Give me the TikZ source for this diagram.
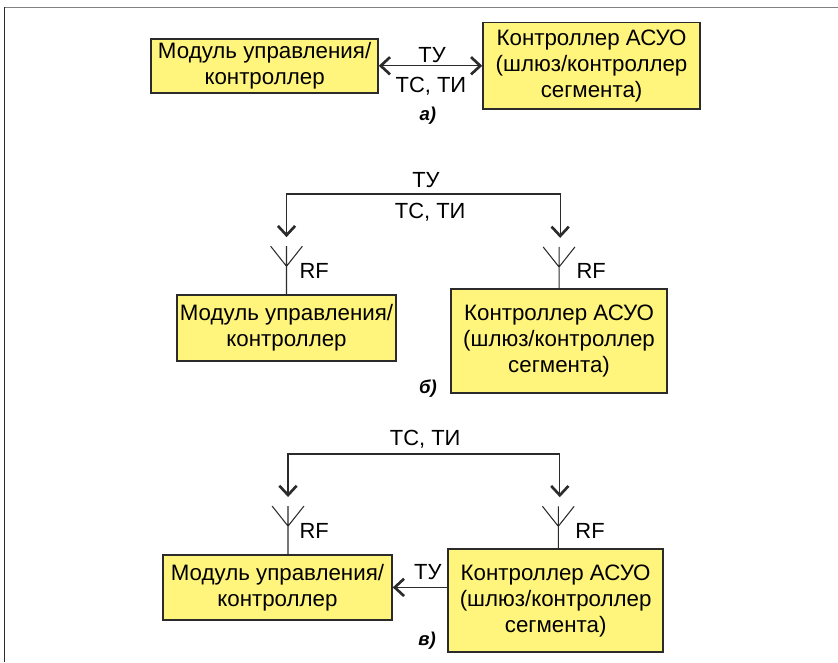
\documentclass[tikz,border=0pt]{standalone}
\usepackage{fontspec}
\setmainfont{Liberation Sans}
\usetikzlibrary{positioning,arrows.meta}
\definecolor{boxfill}{HTML}{FFF57D}
\definecolor{linedark}{HTML}{2B2B2B}
\tikzstyle{mod}=[draw=linedark, fill=boxfill, line width=1.2pt, align=center, font=\fontsize{16.8}{19.5}\selectfont, inner sep=0pt, execute at begin node=\vspace*{4pt}]
\tikzstyle{lbl}=[font=\fontsize{16.5}{20}\selectfont, inner sep=0pt]
\tikzstyle{fig}=[font=\fontsize{14}{16}\selectfont\bfseries\itshape, inner sep=0pt]
\tikzstyle{wire}=[draw=linedark, line width=0.9pt]
\tikzstyle{ant}=[draw=linedark, line width=0.8pt]
\begin{document}
\begin{tikzpicture}[node distance=2cm,>={Straight Barb[length=7pt,width=13pt,line width=2pt]}]
\useasboundingbox (0,0) rectangle (22.17,-17.52);
\draw[gray, line width=1pt] (22.17,-0.19) -- (0.1,-0.19);
\draw[linedark, line width=0.9pt] (0.12,-0.19) -- (0.12,-17.52);

% a
\node[mod, minimum width=6cm, minimum height=1.43cm] at (7,-1.74) (mod1) {Модуль управления/\\контроллер};
\node[mod, minimum width=5.74cm, minimum height=2.3cm, right of = mod1, node distance = 8.65cm] (ctrl1) {Контроллер АСУО\\(шлюз/контроллер\\сегмента)};
\draw[<->,wire] (mod1) -- (ctrl1);
\node[lbl] at (11.43,-1.46) (tu1) {ТУ};
\node[lbl] at (11.4,-2.28) (ts1) {ТС, ТИ};
\node[fig] at (11.32,-3.07) (capa) {а)};

% b
\node[mod, minimum width=5.79cm, minimum height=1.75cm] at (7.58,-8.68) (mod2) {Модуль управления/\\контроллер};
\node[mod, minimum width=5.72cm, minimum height=2.75cm, right of = mod2, node distance = 7.21cm, yshift=-0.34cm] (ctrl2) {Контроллер АСУО\\(шлюз/контроллер\\сегмента)};
\coordinate[above=0.74cm of mod2] (ant1);
\coordinate[above=0.56cm of ctrl2] (ant2);
\draw[ant] (mod2) -- (ant1) -- +(0,0.53) (ant1) -- +(-0.42,0.53) (ant1) -- +(0.42,0.53);
\draw[ant] (ctrl2) -- (ant2) -- +(0,0.53) (ant2) -- +(-0.42,0.53) (ant2) -- +(0.42,0.53);
\coordinate[above=0.77cm of ant1] (tip1);
\coordinate[above=0.77cm of ant2, xshift=0.03cm] (tip2);
\coordinate (top1) at (11.2,-5.13);
\draw[<->,wire] (tip1) |- (top1) -| (tip2);
\node[lbl] at (11.27,-4.76) (tu2) {ТУ};
\node[lbl] at (11.38,-5.61) (ts2) {ТС, ТИ};
\node[lbl] at (8.31,-7.17) (rf1) {RF};
\node[lbl] at (15.64,-7.17) (rf2) {RF};
\node[fig] at (11.32,-10.27) (capb) {б)};

% c
\node[mod, minimum width=6.06cm, minimum height=1.72cm] at (7.34,-15.54) (mod3) {Модуль управления/\\контроллер};
\node[mod, minimum width=5.69cm, minimum height=2.73cm, right of = mod3, node distance = 7.36cm, yshift=-0.35cm] (ctrl3) {Контроллер АСУО\\(шлюз/контроллер\\сегмента)};
\coordinate[above=0.74cm of mod3, xshift=0.28cm] (ant3);
\coordinate[above=0.58cm of ctrl3, xshift=0.07cm] (ant4);
\draw[ant] (ant3 |- mod3.north) -- (ant3) -- +(0,0.53) (ant3) -- +(-0.42,0.53) (ant3) -- +(0.42,0.53);
\draw[ant] (ant4 |- ctrl3.north) -- (ant4) -- +(0,0.53) (ant4) -- +(-0.42,0.53) (ant4) -- +(0.42,0.53);
\coordinate[above=0.77cm of ant3] (tip3);
\coordinate[above=0.77cm of ant4, xshift=0.04cm] (tip4);
\coordinate (top2) at (11.2,-12.01);
\draw[<->,wire] (tip3) |- (top2) -| (tip4);
\draw[->,wire] (ctrl3.west |- mod3.east) -- (mod3.east);
\node[lbl] at (11.25,-11.62) (ts3) {ТС, ТИ};
\node[lbl] at (11.32,-15.13) (tu3) {ТУ};
\node[lbl] at (8.31,-14.05) (rf3) {RF};
\node[lbl] at (15.61,-14.05) (rf4) {RF};
\node[fig] at (11.3,-16.96) (capc) {в)};
\end{tikzpicture}
\end{document}
